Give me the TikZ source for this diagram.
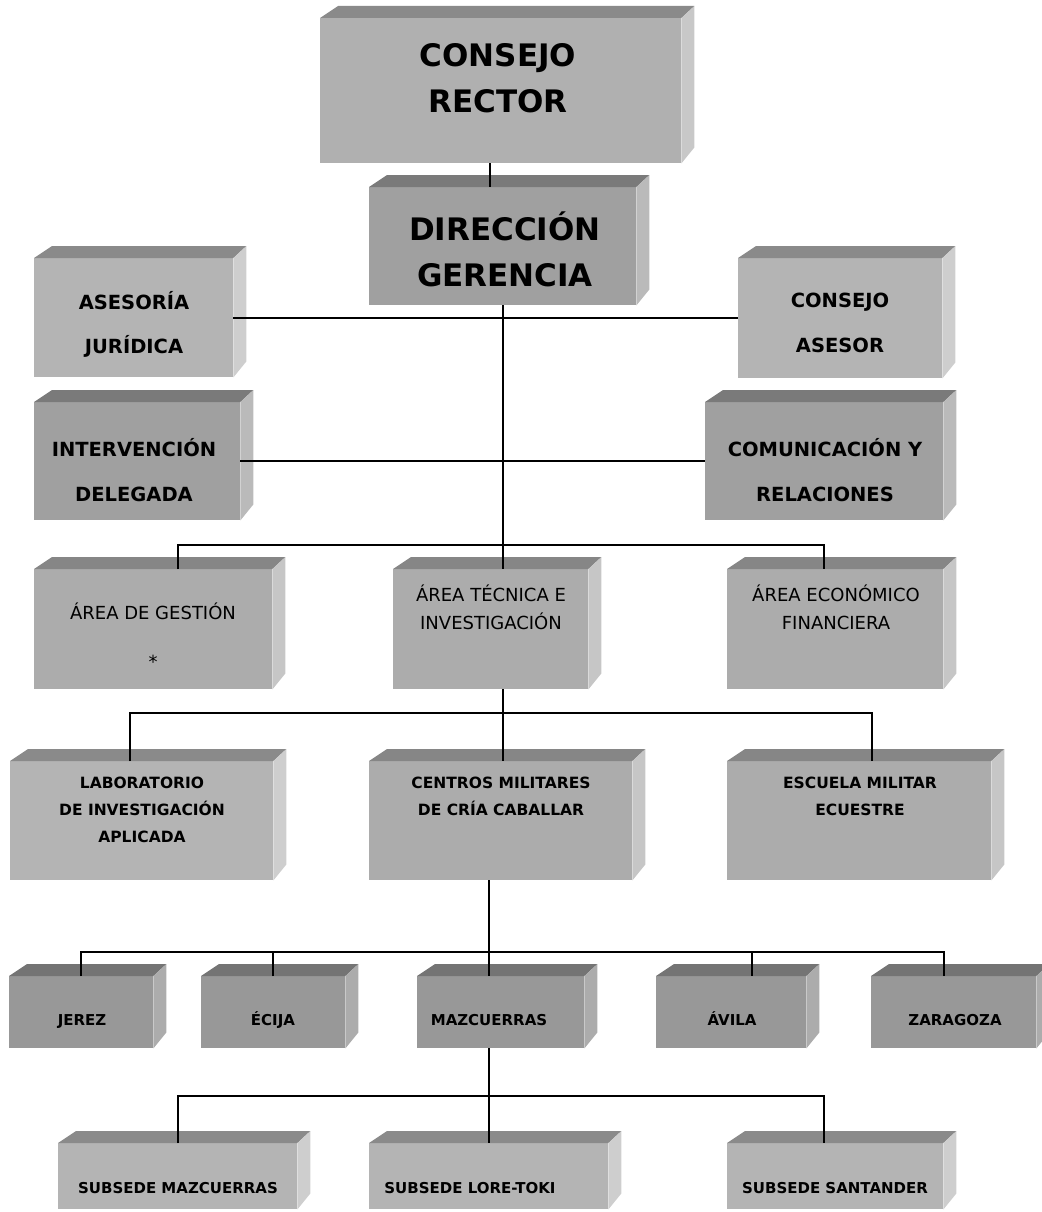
\documentclass[tikz,border=0pt]{standalone}
\usepackage{fontspec}
\setmainfont{DejaVu Sans}
\usepackage{tikz}
\usetikzlibrary{positioning}
\usepackage{xcolor}
% colores de las cajas: F = frente, T = tapa, S = lateral
\definecolor{rectorF}{RGB}{176,176,176}
\definecolor{rectorT}{RGB}{138,138,138}
\definecolor{rectorS}{RGB}{200,200,200}
\definecolor{claroF}{RGB}{180,180,180}
\definecolor{claroT}{RGB}{138,138,138}
\definecolor{claroS}{RGB}{206,206,206}
\definecolor{medioF}{RGB}{172,172,172}
\definecolor{medioT}{RGB}{134,134,134}
\definecolor{medioS}{RGB}{198,198,198}
\definecolor{oscuroF}{RGB}{160,160,160}
\definecolor{oscuroT}{RGB}{122,122,122}
\definecolor{oscuroS}{RGB}{186,186,186}
\definecolor{ciudadF}{RGB}{152,152,152}
\definecolor{ciudadT}{RGB}{116,116,116}
\definecolor{ciudadS}{RGB}{172,172,172}

\tikzset{
  frente/.style={rectangle, inner sep=0pt, anchor=north west},
  linea/.style={draw=black, line width=1.8pt},
  rotulo/.style={align=center, inner sep=0pt, text=black},
  letraA/.style={font=\fontsize{31}{46}\selectfont\bfseries},
  letraB/.style={font=\fontsize{19.5}{45}\selectfont\bfseries},
  letraC/.style={font=\fontsize{18}{28}\selectfont},
  letraD/.style={font=\fontsize{15.5}{27}\selectfont\bfseries},
  letraE/.style={font=\fontsize{15}{18}\selectfont\bfseries, anchor=base}
}

% caja en relieve: nombre, x1, y1, x2, y2, esquema de color
\newcommand{\caja}[6]{%
  \node[frente, fill=#6F, minimum width=#4pt-#2pt, minimum height=#5pt-#3pt] (#1) at (#2,#3) {};
  \fill[#6T] (#1.north west) -- ++(18,-12) -- ([shift={(13,-12)}]#1.north east) -- (#1.north east) -- cycle;
  \fill[#6S] (#1.north east) -- ++(13,-12) -- ([shift={(13,-16)}]#1.south east) -- (#1.south east) -- cycle;
}

\begin{document}
\begin{tikzpicture}[x=1pt, y=-1pt]
            \useasboundingbox (0,0) rectangle (1041,1212);

            % Direccion
            \caja{rector}{320}{18}{681}{163}{rector}
            \caja{gerencia}{369}{187}{636}{305}{oscuro}
            \node[rotulo, letraA] (t-rector) at (498,78) {CONSEJO\\RECTOR};
            \node[rotulo, letraA] (t-gerencia) at (505,249) {DIRECCIÓN\\GERENCIA};

            % Organos de apoyo
            \caja{asesoria}{34}{258}{233}{377}{claro}
            \caja{asesor}{738}{258}{942}{378}{claro}
            \caja{interv}{34}{402}{240}{520}{oscuro}
            \caja{comunic}{705}{402}{943}{520}{oscuro}
            \node[rotulo, letraB, font=\fontsize{19.5}{44}\selectfont\bfseries] (t-asesoria) at (134,324) {ASESORÍA\\JURÍDICA};
            \node[rotulo, letraB] (t-asesor) at (840,322.5) {CONSEJO\\ASESOR};
            \node[rotulo, letraB] (t-interv) at (134,470.5) {INTERVENCIÓN\\DELEGADA};
            \node[rotulo, letraB] (t-comunic) at (825,470.5) {COMUNICACIÓN Y\\RELACIONES};

            % Areas
            \caja{gestion}{34}{569}{272}{689}{medio}
            \caja{tecnica}{393}{569}{588}{689}{medio}
            \caja{economico}{727}{569}{943}{689}{medio}
            \node[rotulo, letraC, font=\fontsize{18}{49}\selectfont] (t-gestion) at (153,636) {ÁREA DE GESTIÓN\\*};
            \node[rotulo, letraC] (t-tecnica) at (491,607) {ÁREA TÉCNICA E\\INVESTIGACIÓN};
            \node[rotulo, letraC] (t-economico) at (836,607) {ÁREA ECONÓMICO\\FINANCIERA};

            % Unidades del area tecnica
            \caja{lab}{10}{761}{273}{880}{claro}
            \caja{centros}{369}{761}{632}{880}{medio}
            \caja{escuela}{727}{761}{991}{880}{medio}
            \node[rotulo, letraD] (t-lab) at (142,810) {LABORATORIO\\DE INVESTIGACIÓN\\APLICADA};
            \node[rotulo, letraD] (t-centros) at (501,796.5) {CENTROS MILITARES\\DE CRÍA CABALLAR};
            \node[rotulo, letraD] (t-escuela) at (860,796.5) {ESCUELA MILITAR\\ECUESTRE};

            % Centros
            \caja{jerez}{9}{976}{153}{1048}{ciudad}
            \caja{ecija}{201}{976}{345}{1048}{ciudad}
            \caja{mazc}{417}{976}{584}{1048}{ciudad}
            \caja{avila}{656}{976}{806}{1048}{ciudad}
            \caja{zarag}{871}{976}{1036}{1048}{ciudad}
            \node[rotulo, letraE] (t-jerez) at (82,1025.5) {JEREZ};
            \node[rotulo, letraE] (t-ecija) at (273,1025.5) {ÉCIJA};
            \node[rotulo, letraE] (t-mazc) at (489,1025.5) {MAZCUERRAS};
            \node[rotulo, letraE] (t-avila) at (732,1025.5) {ÁVILA};
            \node[rotulo, letraE] (t-zarag) at (955,1025.5) {ZARAGOZA};

            % Subsedes
            \caja{submaz}{58}{1143}{297}{1209}{claro}
            \caja{sublore}{369}{1143}{608}{1209}{claro}
            \caja{subsan}{727}{1143}{943}{1209}{claro}
            \node[rotulo, letraE] (t-submaz) at (178,1193.5) {SUBSEDE MAZCUERRAS};
            \node[rotulo, letraE] (t-sublore) at (470,1193.5) {SUBSEDE LORE-TOKI};
            \node[rotulo, letraE] (t-subsan) at (835,1193.5) {SUBSEDE SANTANDER};

            % Ejes y barras
            \coordinate (ejeR) at (490,0);
            \coordinate (ejeM) at (489,0);
            \coordinate (barGi) at (178,545);
            \coordinate (barGd) at (824,545);
            \coordinate (barLi) at (130,713);
            \coordinate (barLd) at (872,713);
            \coordinate (barCd) at (944,952);
            \coordinate (barCa) at (752,952);
            \coordinate (barSd) at (824,1096);

            % Conectores
            \draw[linea] (rector.south -| ejeR) -- (gerencia.north -| ejeR);
            \draw[linea] (gerencia.south) -- (tecnica.north -| gerencia.south);
            \draw[linea] (asesoria.east) -- (asesoria.east -| asesor.west);
            \draw[linea] (interv.east) -- (interv.east -| comunic.west);
            \draw[linea] (gestion.north -| barGi) |- (barGd) -- (economico.north -| barGd);
            \draw[linea] (tecnica.south -| gerencia.south) -- (centros.north -| gerencia.south);
            \draw[linea] (lab.north -| barLi) |- (barLd) -- (escuela.north -| barLd);
            \draw[linea] (centros.south -| ejeM) -- (mazc.north -| ejeM);
            \draw[linea] (jerez.north) |- (barCd) -- (zarag.north -| barCd);
            \draw[linea] (ecija.north) -- (ecija.north |- barCd);
            \draw[linea] (barCa) -- (avila.north -| barCa);
            \draw[linea] (mazc.south -| ejeM) -- (sublore.north -| ejeM);
            \draw[linea] (submaz.north) |- (barSd) -- (subsan.north -| barSd);
        \end{tikzpicture}
\end{document}
